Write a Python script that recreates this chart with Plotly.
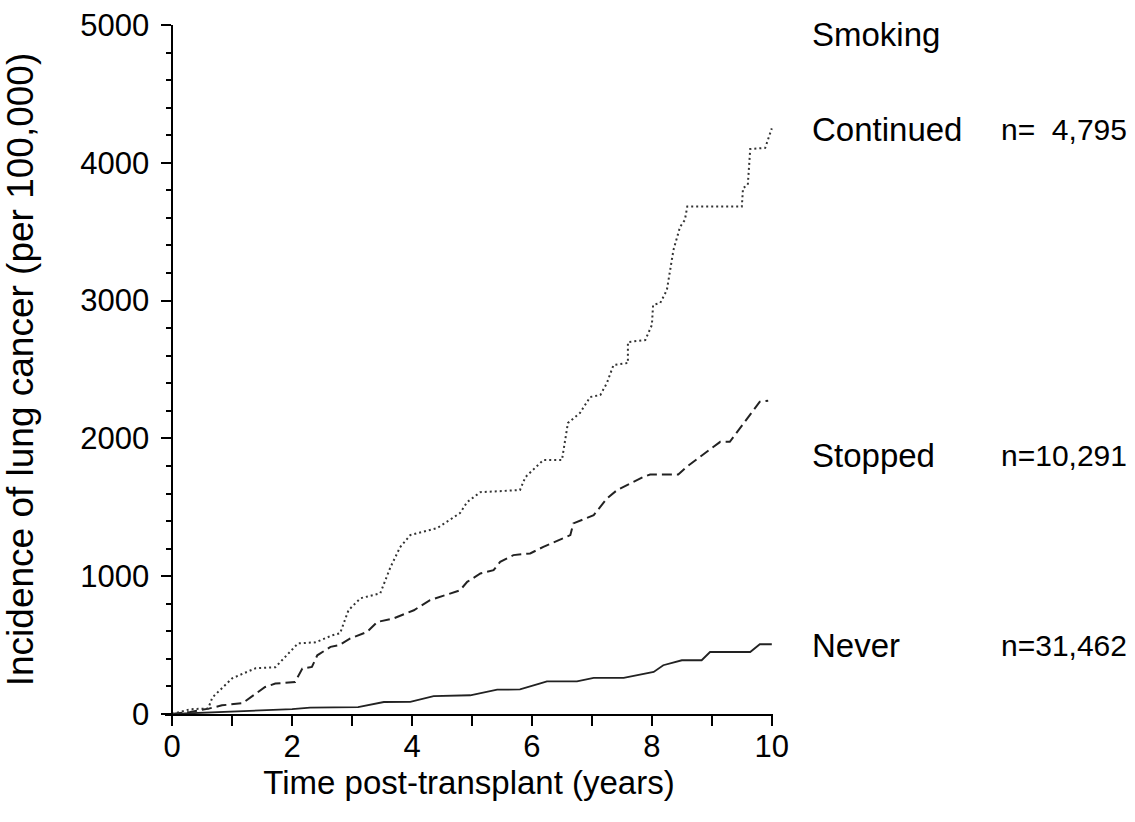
import plotly.graph_objects as go

# Data (time in years, incidence per 100,000)
cont_t = [0, 0.3, 0.6, 0.67, 1.0, 1.39, 1.72, 2.1, 2.39, 2.67, 2.8, 2.94, 3.14, 3.47, 3.64, 3.8, 3.97,
          4.42, 4.8, 4.92, 5.14, 5.8, 5.89, 6.19, 6.5, 6.6, 6.8, 6.97, 7.14, 7.25, 7.36, 7.6, 7.6, 7.89,
          8.0, 8.02, 8.14, 8.25, 8.36, 8.47, 8.55, 8.59, 9.5, 9.52, 9.6, 9.64, 9.89, 10.0]
cont_v = [0, 35, 40, 120, 259, 332, 339, 513, 520, 571, 586, 753, 840, 876, 1065, 1210, 1298,
          1349, 1458, 1538, 1610, 1625, 1719, 1843, 1843, 2112, 2184, 2300, 2315, 2402, 2533, 2547, 2699, 2714,
          2823, 2968, 2983, 3077, 3368, 3535, 3585, 3682, 3682, 3816, 3840, 4100, 4108, 4250]

stop_t = [0, 0.3, 0.61, 0.83, 1.17, 1.55, 1.72, 2.05, 2.17, 2.33, 2.42, 2.64, 2.78, 2.97, 3.25, 3.42,
          3.69, 4.03, 4.3, 4.64, 4.8, 4.92, 5.14, 5.36, 5.47, 5.69, 5.97, 6.19, 6.64, 6.69, 7.03, 7.25,
          7.42, 7.86, 7.97, 8.44, 8.58, 9.14, 9.3, 9.8, 9.94]
stop_v = [0, 15, 39, 63, 78, 196, 221, 232, 330, 342, 426, 487, 499, 548, 596, 668,
          693, 753, 826, 874, 898, 959, 1020, 1044, 1104, 1153, 1165, 1213, 1298, 1383, 1443, 1564,
          1625, 1721, 1738, 1738, 1794, 1975, 1975, 2266, 2273]

never_t = [0, 0.5, 1, 2, 2.3, 3.1, 3.53, 3.97, 4.36, 4.97, 5.42, 5.8, 6.14, 6.25, 6.75, 7.03, 7.53,
           8.03, 8.19, 8.5, 8.83, 8.97, 9.64, 9.8, 10.0]
never_v = [0, 8, 15, 35, 46, 50, 87, 88, 129, 136, 177, 178, 222, 237, 237, 262, 262,
           305, 354, 390, 390, 450, 450, 506, 506]

group_names = ["Continued", "Stopped", "Never"]
group_n = ["n=\u00a0\u00a04,795", "n=10,291", "n=31,462"]
legend_title = "Smoking"
x_ticks = [0, 1, 2, 3, 4, 5, 6, 7, 8, 9, 10]
x_ticktext = ["0", "", "2", "", "4", "", "6", "", "8", "", "10"]
y_ticks = [0, 1000, 2000, 3000, 4000, 5000]

FONT = "Liberation Sans, Arial, Helvetica, sans-serif"

fig = go.Figure()
fig.add_trace(go.Scatter(x=never_t, y=never_v, mode="lines", name="Never",
                         line=dict(color="#222", width=1.8)))
fig.add_trace(go.Scatter(x=stop_t, y=stop_v, mode="lines", name="Stopped",
                         line=dict(color="#222", width=2, dash="10px,5px")))
fig.add_trace(go.Scatter(x=cont_t, y=cont_v, mode="lines", name="Continued",
                         line=dict(color="#333", width=2, dash="2px,3px")))

# page geometry: body margin removed by post_script, so figure px == page px
W_FIG, H_FIG = 1135, 822
PL, PW = 164.5, 608.4          # plot area left and width
PT, PH = 25.2, 688.5           # plot area top and height
xr0, xr1 = -0.12, 10.02

fig.update_layout(
    width=W_FIG, height=H_FIG,
    margin=dict(l=PL, r=W_FIG - PL - PW, t=PT, b=H_FIG - PT - PH, autoexpand=False),
    paper_bgcolor="white", plot_bgcolor="white",
    showlegend=False,
    font=dict(family=FONT, size=31, color="black"),
    xaxis=dict(range=[xr0, xr1], tickvals=x_ticks, ticktext=x_ticktext,
               ticks="outside", ticklen=10, tickwidth=1.5, tickcolor="black",
               showline=True, linecolor="black", linewidth=1.5, automargin=False,
               showgrid=False, zeroline=False, ticklabeloverflow="allow",
               tickfont=dict(size=31),
               title=dict(text="Time post-transplant (years)", font=dict(size=33), standoff=6)),
    yaxis=dict(range=[0, 5000], tickvals=y_ticks,
               anchor="free", position=(0 - xr0) / (xr1 - xr0),
               ticks="outside", ticklen=10, tickwidth=1.5, tickcolor="black",
               minor=dict(dtick=200, ticks="outside", ticklen=5, tickwidth=1.5, tickcolor="black"),
               showline=True, linecolor="black", linewidth=1.5, automargin=False,
               showgrid=False, zeroline=False, ticklabeloverflow="allow",
               ticklabelstandoff=6,
               tickfont=dict(size=31),
               title=dict(text="Incidence of lung cancer (per 100,000)", font=dict(size=37), standoff=34)),
)
try:
    fig.update_xaxes(ticklabelstandoff=-6)
except ValueError:
    pass


def px_to_paper(px, py):
    return (px - PL) / PW, (PT + PH - py) / PH


for name, n, ypx in zip(group_names, group_n, [130, 455, 645]):
    xp, yp = px_to_paper(810, ypx)
    fig.add_annotation(x=xp, y=yp, xref="paper", yref="paper", text=name,
                       showarrow=False, xanchor="left", yanchor="middle",
                       font=dict(size=33, family=FONT, color="black"))
    xp, yp = px_to_paper(1129, ypx)
    fig.add_annotation(x=xp, y=yp, xref="paper", yref="paper", text=n,
                       showarrow=False, xanchor="right", yanchor="middle",
                       font=dict(size=30, family=FONT, color="black"))
xp, yp = px_to_paper(810, 35)
fig.add_annotation(x=xp, y=yp, xref="paper", yref="paper", text=legend_title,
                   showarrow=False, xanchor="left", yanchor="middle",
                   font=dict(size=33, family=FONT, color="black"))

fig.write_html("out.html", config={"displayModeBar": False},
               post_script="document.body.style.margin='0';document.body.style.overflow='hidden';")
